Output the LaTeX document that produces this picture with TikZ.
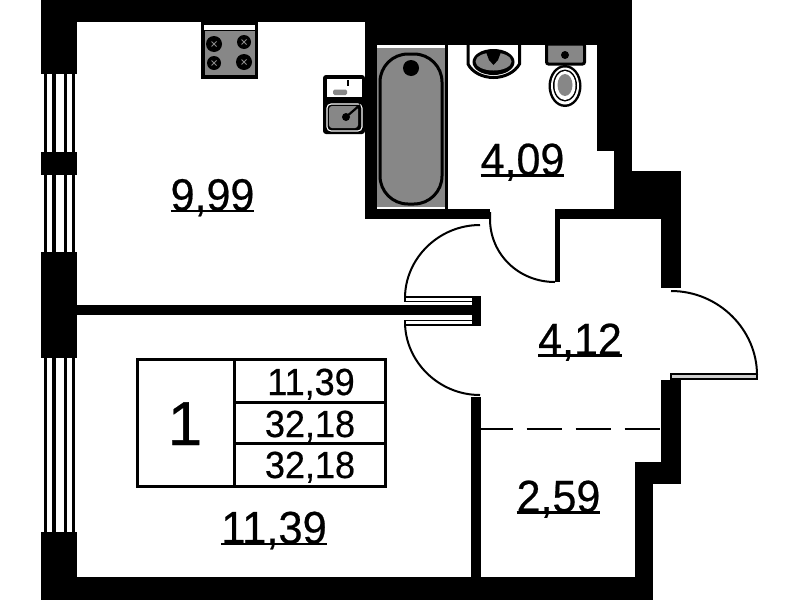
\documentclass[tikz,border=0pt]{standalone}
\usepackage{fontspec}
\setmainfont{Liberation Sans}
\newfontfamily\heavy[FakeBold=0.5]{Liberation Sans}
\newcommand{\roomnum}[1]{\setbox0\hbox{#1}\rlap{\rule[-1.6pt]{\wd0}{2.2pt}}\box0}
\definecolor{fixgray}{HTML}{878787}
\tikzset{
  wall/.style={fill=black},
  gr/.style={fill=fixgray},
  swing/.style={draw=black,line width=2pt},
  leaf/.style={draw=black,line width=1.8pt,fill=white},
  pane/.style={fill=black},
  cell/.style={draw=black,line width=3pt,line join=miter},
  fixture/.style={draw=black,line width=3pt},
  room/.style={anchor=base,inner sep=0pt,font=\heavy\fontsize{43}{50}\selectfont,yscale=1.05,transform shape},
  tab/.style={anchor=base,inner sep=0pt,font=\heavy\fontsize{36}{42}\selectfont,yscale=1.05,transform shape},
}
\begin{document}
\begin{tikzpicture}[x=1pt,y=-1pt]
\useasboundingbox (0,0) rectangle (799,600);
\fill[white] (0,0) rectangle (799,600);
% outer and inner walls
\fill[wall] (41,0) rectangle (632,22);
\fill[wall] (365,0) rectangle (632,45);
\fill[wall] (41,0) rectangle (77,74);
\fill[wall] (41,152) rectangle (77,175);
\fill[wall] (41,252) rectangle (77,358);
\fill[wall] (41,532) rectangle (77,600);
\fill[wall] (41,577) rectangle (653,600);
\fill[wall] (597,0) rectangle (632,151);
\fill[wall] (614,151) rectangle (632,219);
\fill[wall] (614,171) rectangle (681,219);
\fill[wall] (555,209) rectangle (632,219);
\fill[wall] (661,171) rectangle (680.5,288);
\fill[wall] (555,209) rectangle (560,282);
\fill[wall] (365,22) rectangle (377,219);
\fill[wall] (365,209) rectangle (490,219);
\fill[wall] (445,45) rectangle (448,219);
\fill[wall] (77,304.5) rectangle (472,315);
\fill[wall] (471,397) rectangle (481,577);
\fill[wall] (661,380) rectangle (680.5,484);
\fill[wall] (635,462) rectangle (680.5,484);
\fill[wall] (635,462) rectangle (653,600);
% window panes
\foreach \a/\b in {74/152,175/252,358/532}{
  \fill[pane] (43.5,\a) rectangle (47,\b);
  \fill[pane] (52,\a) rectangle (55.5,\b);
  \fill[pane] (63.5,\a) rectangle (66.5,\b);
  \fill[pane] (71.5,\a) rectangle (75,\b);
}
% doors
\draw[swing] (490,212) -- (490,219) .. controls (490,253.8) and (518.2,282) .. (555,282);
\draw[swing] (480,225) .. controls (438.6,225) and (405,258.6) .. (405,298);
\draw[swing] (405,322) .. controls (405,361.4) and (438.6,395) .. (480,395);
\draw[swing] (671,291) .. controls (718.5,291) and (757,329.5) .. (757,375);
\draw[leaf] (405,297) rectangle (478,301.5);
\draw[leaf] (405,320.5) rectangle (478,325);
\fill[wall] (472,296) rectangle (481,326);
\draw[draw=black,line width=1.8pt,fill=fixgray!40] (671,374) rectangle (757,379);
% balcony partition
\draw[draw=black,line width=2.4pt,dash pattern=on 35.5pt off 13.5pt,dash phase=3.5pt] (481,429) -- (661,429);
% stove
\fill[wall] (201,22) rectangle (258,78.7);
\fill[white] (204,24.5) rectangle (255,29.5);
\fill[gr] (205,31) rectangle (255,75);
\foreach \x/\y/\r in {214/44/8,244/42/7,214/63/7,244/62/8}{
  \fill[black] (\x,\y) circle[radius=\r];
  \draw[fixgray,line width=.8pt] (\x-2.5,\y-2.5) -- (\x+2.5,\y+2.5) (\x-2.5,\y+2.5) -- (\x+2.5,\y-2.5);
}
% sink
\fill[wall,rounded corners=3pt] (323,75) rectangle (365,134);
\fill[white] (327,78.5) rectangle (362,96.5);
\fill[gr,rounded corners=1.5pt] (333,89.5) rectangle (347,95);
\fill[black] (347,80) rectangle (349,86);
\draw[white,line width=1.1pt,rounded corners=4pt] (327,104) -- (362,104) -- (362,131) -- (327,131) -- cycle;
\fill[gr,rounded corners=3pt] (329,106) rectangle (358,128);
\draw[black,line width=2.2pt] (346,117) -- (360,105);
\fill[black] (346,117) circle[radius=4];
% bath
\fill[gr] (377,47.5) rectangle (445,207);
\draw[fixture,fill=fixgray,rounded corners=28pt] (380,54) rectangle (442,204);
\fill[black] (411,68) circle[radius=8];
% basin
\draw[fixture,fill=white] (468,45) -- (468,64) .. controls (472,72) and (482,77.5) .. (493.5,77.5) .. controls (505,77.5) and (515,72) .. (519.5,64) -- (519.5,45);
\fill[black] (493.5,62) ellipse[x radius=21,y radius=13];
\fill[gr] (493.5,61.5) ellipse[x radius=18,y radius=9];
\fill[black] (486,52) -- (501,52) -- (498,60) -- (493.5,65) -- (489,60) -- cycle;
% toilet
\draw[fixture,fill=fixgray,rounded corners=2pt] (546.5,44) rectangle (584.5,64);
\fill[black] (565,55) circle[radius=4];
\fill[black] (565,86) ellipse[x radius=16.5,y radius=21];
\fill[white] (565,86) ellipse[x radius=14,y radius=18.5];
\fill[black] (565,85.5) ellipse[x radius=12,y radius=16];
\fill[white] (565,85.5) ellipse[x radius=10.5,y radius=14.5];
\fill[gr] (565,85) ellipse[x radius=7.5,y radius=11];
% summary table
\draw[cell] (137,359) rectangle (385,486);
\draw[cell] (234,359) -- (234,486);
\draw[cell] (234,402) -- (385,402);
\draw[cell] (234,443) -- (385,443);
\node[anchor=base,inner sep=0pt,font=\heavy\fontsize{62}{70}\selectfont] (rooms) at (185,445) {1};
\node[tab] (t1) at (311,395) {11,39};
\node[tab] (t2) at (310,437) {32,18};
\node[tab] (t3) at (310,478) {32,18};
% room areas
\node[room] (kitchen) at (212.5,210.5) {\roomnum{9,99}};
\node[room] (bath) at (522.5,175) {\roomnum{4,09}};
\node[room] (hall) at (580,355) {\roomnum{4,12}};
\node[room] (balcony) at (558.5,512) {\roomnum{2,59}};
\node[room,font=\heavy\fontsize{43.5}{50}\selectfont] (bedroom) at (274,543.5) {\roomnum{11,39}};
\end{tikzpicture}
\end{document}
